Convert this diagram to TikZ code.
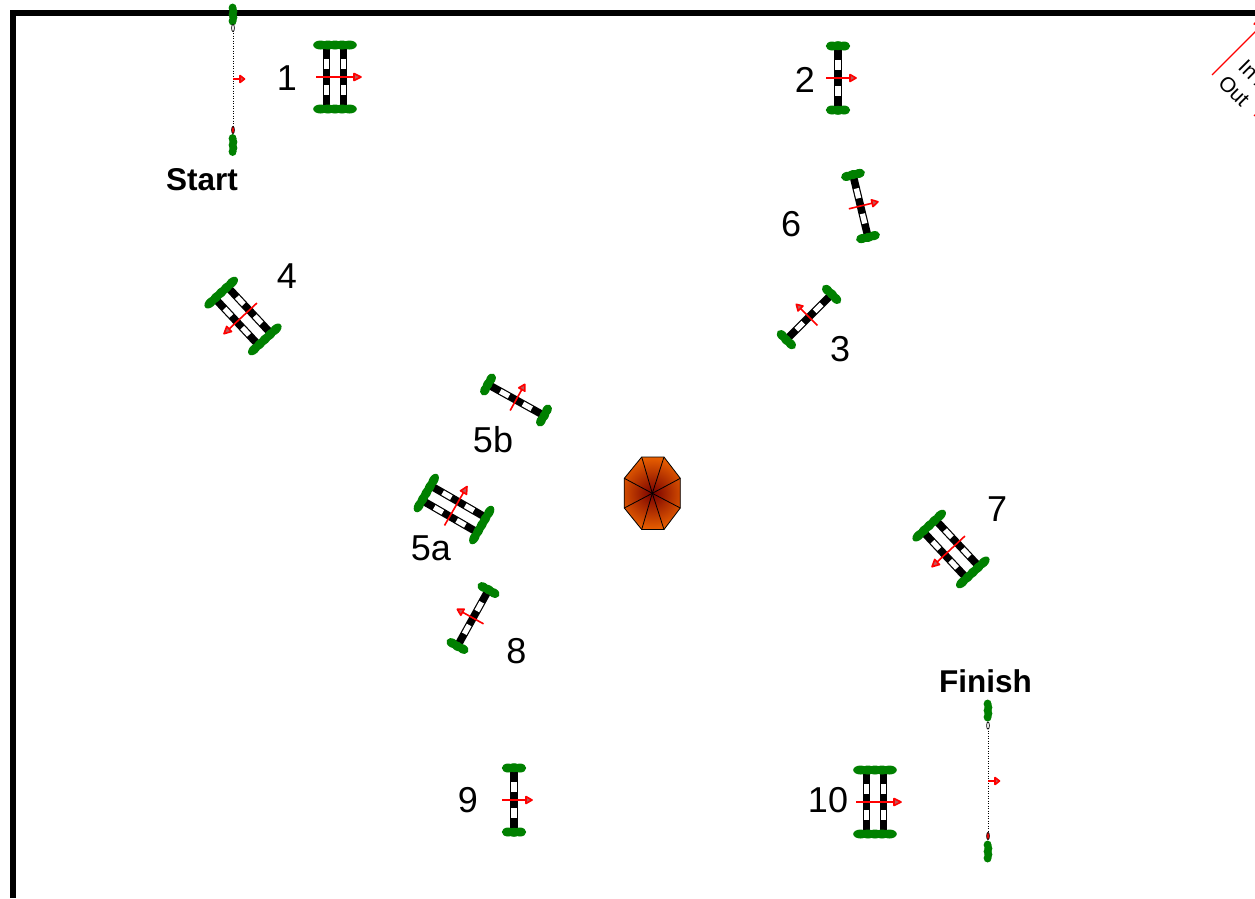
\documentclass[tikz,border=0pt]{standalone}
\usepackage{fontspec}
\setmainfont{Liberation Sans}
\definecolor{wing}{RGB}{0,128,0}
\definecolor{arr}{RGB}{255,0,0}
\definecolor{headfill}{RGB}{190,90,90}
\definecolor{umbdark}{RGB}{120,0,0}
\definecolor{umblight}{RGB}{245,105,0}
\tikzset{
  x=1pt,y=-1pt,
  wingblob/.style={fill=wing,draw=none},
  barblack/.style={fill=black,draw=none},
  barwhite/.style={fill=white,draw=none},
  dirline/.style={draw=arr,line width=1.6pt},
  dirhead/.style={draw=arr,fill=headfill,line width=1.6pt,line join=round},
  numlabel/.style={font=\fontsize{36}{36}\selectfont,inner sep=0pt},
  biglabel/.style={font=\fontsize{31.5}{32}\selectfont\bfseries,inner sep=0pt},
  gatelabel/.style={font=\fontsize{21}{21}\selectfont,inner sep=0pt,rotate=-45,anchor=base west},
}
\newcommand{\poleat}[1]{%
  \fill[barblack] (#1-3.8,-29) rectangle (#1+3.8,29);
  \fill[barwhite] (#1-2.6,-18) rectangle (#1+2.6,-8);
  \fill[barwhite] (#1-2.6,8) rectangle (#1+2.6,18);}
\newcommand{\singlejump}[3]{%
  \begin{scope}[shift={(#1,#2)},rotate=#3]
    \poleat{0}
    \foreach \s/\o in {-32/-0.3,32/0.3}{
      \foreach \t/\j in {-6/0,0/\o,6/0}{
        \fill[wingblob] (\t,\s+\j) ellipse [x radius=6.2,y radius=4.5];}}
    \draw[dirline] (-12,0) -- (12,0);
    \draw[dirhead] (12,-3.5) -- (18,0) -- (12,3.5) -- cycle;
  \end{scope}}
\newcommand{\doublejump}[3]{%
  \begin{scope}[shift={(#1,#2)},rotate=#3]
    \poleat{-8.5}
    \poleat{8.5}
    \foreach \s in {-32,32}{
      \foreach \t in {-14.5,-7,0,7,14.5}{
        \fill[wingblob] (\t,\s) ellipse [x radius=7.3,y radius=4.5];}}
    \draw[dirline] (-19,0) -- (19,0);
    \draw[dirhead] (19,-3.5) -- (26,0) -- (19,3.5) -- cycle;
  \end{scope}}
% x, top wing centre, top oval y, bottom oval y, bottom wing centre, arrow y
\newcommand{\timerline}[6]{%
  \draw[black,line width=0.8pt,dash pattern=on 0.9pt off 1.6pt] (#1,#3) -- (#1,#4);
  \foreach \d/\j in {-6.5/-0.4,-3/0.4,0/-0.4,3/0.4,6.5/-0.4}{
    \fill[wingblob] (#1+\j,#2+\d) ellipse [x radius=4,y radius=4.5];
    \fill[wingblob] (#1+\j,#5+\d) ellipse [x radius=4,y radius=4.5];}
  \draw[black,fill=white,line width=0.7pt] (#1,#3) ellipse [x radius=1.4,y radius=3.6];
  \draw[black,fill=arr,line width=0.7pt] (#1,#4) ellipse [x radius=1.4,y radius=3.6];
  \draw[dirline] (#1,#6) -- (#1+7,#6);
  \draw[dirhead] (#1+7,#6-3.5) -- (#1+11.5,#6) -- (#1+7,#6+3.5) -- cycle;}
\begin{document}
\begin{tikzpicture}
\useasboundingbox (0,0) rectangle (1255,898);
\begin{scope}
\clip (0,0) rectangle (1255,898);
% ring border
\draw[black,line width=5.5pt,line join=miter] (13,898) -- (13,13) -- (1255,13);
% in / out gate
\draw[arr,line width=1.3pt] (1212,75) -- (1262,25);
\draw[arr,fill=arr,line width=1pt] (1254,24) -- (1259,18) -- (1260,27) -- cycle;
\draw[arr,line width=1.3pt] (1254,116) -- (1262,108);
\node[gatelabel] (gatein) at (1237,68) {In /};
\node[gatelabel] (gateout) at (1217,84) {Out};
% timers
\timerline{233}{14.5}{28}{130}{145}{79}
\timerline{988}{710.5}{725.5}{836}{851.5}{781}
% jumps
\doublejump{335}{77}{0}
\singlejump{838}{78}{0}
\singlejump{860.5}{206}{13.6}
\singlejump{809}{317}{135}
\doublejump{243}{316}{223}
\singlejump{516}{400}{61}
\doublejump{454}{509}{60}
\singlejump{473}{618}{151}
\doublejump{951}{549}{223}
\singlejump{514}{800}{0}
\doublejump{875}{802}{0}
% umbrella
\begin{scope}
\clip (641.7,457) -- (664,457) -- (680.3,478.3) -- (680.3,508) -- (664,529.5) -- (641.7,529.5) -- (624.3,508) -- (624.3,478.3) -- cycle;
\shade[inner color=umbdark,outer color=umblight] (652.3,493.3) circle (40);
\end{scope}
\draw[black,line width=0.8pt,line join=round] (641.7,457) -- (664,457) -- (680.3,478.3) -- (680.3,508) -- (664,529.5) -- (641.7,529.5) -- (624.3,508) -- (624.3,478.3) -- cycle;
\foreach \px/\py in {641.7/457,664/457,680.3/478.3,680.3/508,664/529.5,641.7/529.5,624.3/508,624.3/478.3}
  \draw[black,line width=0.8pt] (652.3,493.3) -- (\px,\py);
% labels
\node[biglabel] (start) at (202,180) {Start};
\node[biglabel] (finish) at (985.5,681) {Finish};
\node[numlabel] (n1) at (287,78) {1};
\node[numlabel] (n2) at (805,80) {2};
\node[numlabel] (n3) at (840,349) {3};
\node[numlabel] (n4) at (287,276) {4};
\node[numlabel] (n5a) at (431,548) {5a};
\node[numlabel] (n5b) at (493,440) {5b};
\node[numlabel] (n6) at (791,224) {6};
\node[numlabel] (n7) at (997,509) {7};
\node[numlabel] (n8) at (516.5,651) {8};
\node[numlabel] (n9) at (468,800) {9};
\node[numlabel] (n10) at (828,800) {10};
\end{scope}
\end{tikzpicture}
\end{document}
